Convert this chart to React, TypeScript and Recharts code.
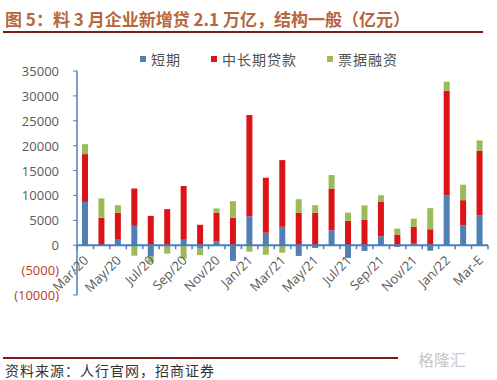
import { BarChart, Bar, XAxis, YAxis, ReferenceLine } from 'recharts';

const months = [
  'Mar/20', 'Apr/20', 'May/20', 'Jun/20', 'Jul/20', 'Aug/20', 'Sep/20', 'Oct/20', 'Nov/20', 'Dec/20',
  'Jan/21', 'Feb/21', 'Mar/21', 'Apr/21', 'May/21', 'Jun/21', 'Jul/21', 'Aug/21', 'Sep/21', 'Oct/21',
  'Nov/21', 'Dec/21', 'Jan/22', 'Feb/22', 'Mar-E',
];

// 短期
const shortTerm = [
  8700, 0, 1100, 3900, -2300, -300, 1100, -700, 800, -3150,
  5800, 2500, 3700, -2150, -550, 3000, -2550, -1150, 1800, -350,
  450, -1100, 10050, 4000, 5950,
];

// 中长期贷款
const midLong = [
  9600, 5500, 5400, 7500, 5900, 7250, 10800, 4100, 5700, 5500,
  20350, 11050, 13400, 6500, 6500, 8400, 4900, 5100, 6900, 2150,
  3250, 3200, 21000, 5050, 13000,
];

// 票据融资
const bills = [
  2000, 3900, 1550, -2100, -1200, -1400, -2700, -1300, 900, 3350,
  -1300, -1900, -1500, 2750, 1550, 2700, 1650, 2900, 1350, 1200,
  1650, 4250, 1800, 3100, 2100,
];

const yTicks = [-10000, -5000, 0, 5000, 10000, 15000, 20000, 25000, 30000, 35000];

const series = [
  { key: 'short', name: '短期', color: '#4f7fb3' },
  { key: 'mid', name: '中长期贷款', color: '#dd1317' },
  { key: 'bill', name: '票据融资', color: '#9bbb59' },
];

const data = months.map((m, i) => ({
  month: m,
  short: shortTerm[i],
  mid: midLong[i],
  bill: bills[i],
}));

const W = 497;
const H = 380;
const PLOT_TOP = 71;
const PLOT_BOTTOM = 295;
const PLOT_LEFT = 77;
const PLOT_RIGHT = 488;
const Y_MIN = yTicks[0];
const Y_MAX = yTicks[yTicks.length - 1];
const zeroOffset = ((PLOT_BOTTOM - PLOT_TOP) * (0 - Y_MIN)) / (Y_MAX - Y_MIN);
const step = (PLOT_RIGHT - PLOT_LEFT) / months.length;
const axisBlue = '#4a7ebb';

function MonthTick(props: any) {
  const { x, y, payload, index } = props;
  const zeroY = y - zeroOffset;
  const bx = x - step / 2;
  const tx = x + 4;
  const ty = zeroY + 16;
  return (
    <g>
      <line x1={bx} y1={zeroY} x2={bx} y2={zeroY + 4} stroke={axisBlue} strokeWidth={1.5} />
      {index === months.length - 1 && (
        <line x1={x + step / 2} y1={zeroY} x2={x + step / 2} y2={zeroY + 4} stroke={axisBlue} strokeWidth={1.5} />
      )}
      {index % 2 === 0 && (
        <text
          x={tx}
          y={ty}
          textAnchor="end"
          fontSize={13}
          fill="#595959"
          fontFamily="'Open Sans', sans-serif"
          transform={`rotate(-45, ${tx}, ${ty})`}
        >
          {payload.value}
        </text>
      )}
    </g>
  );
}

function AmountTick(props: any) {
  const { x, y, payload } = props;
  const v = payload.value;
  const neg = v < 0;
  return (
    <text
      x={x}
      y={y}
      dy={5}
      textAnchor="end"
      fontSize={13}
      fill={neg ? '#c0392b' : '#595959'}
      fontFamily="'Open Sans', sans-serif"
    >
      {neg ? `(${-v})` : v}
    </text>
  );
}

export default function App() {
  return (
    <div style={{ position: 'absolute', left: 0, top: 0, width: W, height: H, background: '#fff', overflow: 'hidden' }}>
      <div
        style={{
          position: 'absolute',
          left: 5,
          top: 7,
          fontSize: 17,
          fontWeight: 700,
          color: '#b8663e',
          fontFamily: "'Noto Sans CJK SC', sans-serif",
          whiteSpace: 'nowrap',
          lineHeight: '24px',
        }}
      >
        图 5：料 3 月企业新增贷 2.1 万亿，结构一般（亿元）
      </div>
      <div style={{ position: 'absolute', left: 3, top: 31, width: 480, height: 2, background: '#7a1c1c' }} />

      <div style={{ position: 'absolute', left: 0, top: 0 }}>
        <BarChart
          width={W}
          height={H}
          data={data}
          stackOffset="sign"
          barSize={6}
          margin={{ top: PLOT_TOP, right: W - PLOT_RIGHT, bottom: H - PLOT_BOTTOM - 30, left: 0 }}
        >
          <XAxis
            dataKey="month"
            height={30}
            axisLine={false}
            tickLine={false}
            tickSize={0}
            tickMargin={0}
            interval={0}
            tick={<MonthTick />}
          />
          <YAxis
            width={PLOT_LEFT}
            domain={[Y_MIN, Y_MAX]}
            ticks={yTicks}
            interval={0}
            axisLine={{ stroke: axisBlue, strokeWidth: 1.5 }}
            tickLine={{ stroke: axisBlue }}
            tickSize={4}
            tickMargin={14}
            tick={<AmountTick />}
          />
          <ReferenceLine y={0} stroke={axisBlue} strokeWidth={2} />
          {series.map((s) => (
            <Bar key={s.key} dataKey={s.key} name={s.name} stackId="a" fill={s.color} isAnimationActive={false} />
          ))}
        </BarChart>
      </div>

      <div
        style={{
          position: 'absolute',
          left: 140,
          top: 50,
          display: 'flex',
          fontSize: 14,
          lineHeight: '18px',
          color: '#505050',
          fontFamily: "'Noto Sans CJK SC', sans-serif",
          whiteSpace: 'nowrap',
        }}
      >
        {series.map((s) => (
          <div key={s.key} style={{ display: 'flex', alignItems: 'center', marginRight: 30 }}>
            <span style={{ width: 6, height: 6, background: s.color, marginRight: 5, display: 'inline-block' }} />
            <span style={{ letterSpacing: 1 }}>{s.name}</span>
          </div>
        ))}
      </div>

      <div style={{ position: 'absolute', left: 3, top: 357, width: 395, height: 2, background: '#7a1c1c' }} />
      <div
        style={{
          position: 'absolute',
          left: 5,
          top: 361,
          fontSize: 14,
          color: '#333',
          fontFamily: "'Noto Sans CJK SC', sans-serif",
          whiteSpace: 'nowrap',
          lineHeight: '18px',
          letterSpacing: 1,
        }}
      >
        资料来源：人行官网，招商证券
      </div>
      <div
        style={{
          position: 'absolute',
          left: 418,
          top: 347,
          fontSize: 16,
          color: '#c8c8c8',
          fontFamily: "'Noto Sans CJK SC', sans-serif",
          whiteSpace: 'nowrap',
        }}
      >
        格隆汇
      </div>
    </div>
  );
}
